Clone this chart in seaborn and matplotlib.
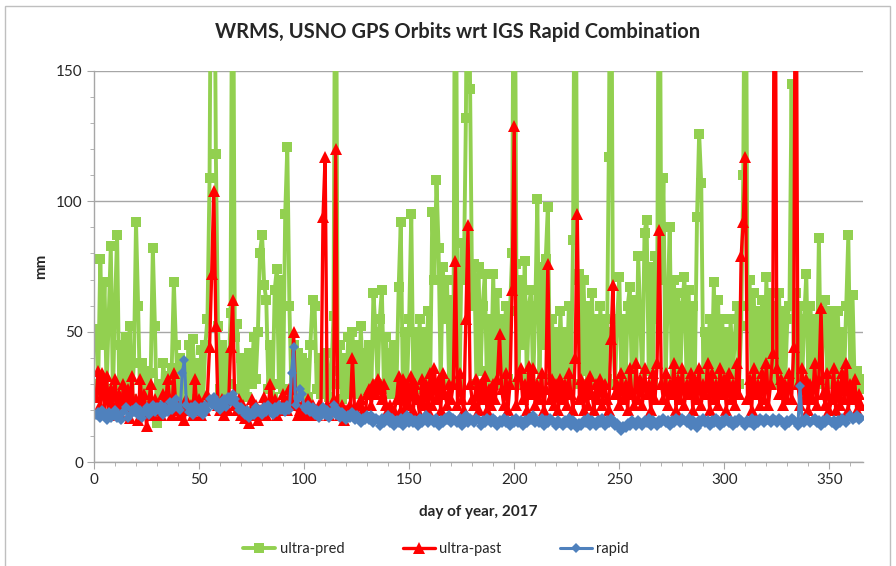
import numpy as np
import pandas as pd
import matplotlib
matplotlib.use("Agg")
import matplotlib.pyplot as plt
import seaborn as sns
from matplotlib.ticker import MultipleLocator
from matplotlib.patches import Rectangle

# daily WRMS values (mm), days 1..365
# values of 250 are spikes that run off the top of the chart
ultra_pred = [
    51, 30, 78, 45, 69, 28, 55, 83, 25, 60,
    87, 28, 45, 22, 48, 30, 52, 24, 38, 92,
    60, 22, 38, 25, 35, 20, 34, 82, 52, 15,
    30, 22, 38, 27, 33, 20, 36, 69, 45, 25,
    40, 22, 36, 28, 45, 24, 47, 30, 38, 22,
    43, 25, 45, 55, 109, 250, 250, 118, 52, 28,
    45, 26, 42, 30, 57, 250, 48, 53, 28, 40,
    26, 40, 25, 42, 30, 48, 32, 50, 80, 87,
    68, 62, 28, 45, 25, 66, 74, 30, 70, 28,
    95, 121, 60, 25, 45, 28, 42, 26, 40, 27,
    38, 25, 45, 62, 60, 28, 40, 26, 38, 28,
    42, 25, 35, 56, 250, 30, 45, 24, 40, 26,
    48, 28, 50, 30, 45, 26, 52, 28, 42, 30,
    45, 27, 65, 50, 30, 55, 66, 28, 48, 30,
    42, 26, 45, 30, 67, 92, 28, 50, 30, 55,
    95, 28, 50, 30, 55, 28, 50, 32, 58, 30,
    96, 70, 108, 82, 30, 75, 55, 70, 30, 62,
    30, 250, 60, 30, 84, 70, 132, 250, 143, 60,
    76, 30, 75, 35, 60, 72, 30, 55, 32, 72,
    30, 65, 35, 55, 30, 60, 32, 58, 80, 250,
    76, 30, 70, 45, 77, 32, 60, 66, 30, 58,
    101, 30, 75, 45, 78, 98, 32, 55, 30, 50,
    32, 58, 30, 50, 32, 60, 30, 85, 250, 70,
    72, 30, 70, 35, 60, 32, 65, 30, 55, 32,
    60, 30, 55, 32, 117, 250, 50, 30, 55, 71,
    32, 55, 30, 60, 67, 32, 62, 30, 79, 55,
    30, 88, 93, 35, 75, 30, 79, 55, 250, 70,
    109, 32, 60, 90, 30, 70, 35, 65, 30, 60,
    71, 32, 66, 30, 60, 35, 94, 126, 107, 32,
    50, 30, 55, 32, 69, 30, 62, 32, 55, 30,
    50, 30, 55, 32, 48, 60, 30, 52, 110, 250,
    60, 70, 32, 65, 30, 58, 35, 62, 30, 71,
    32, 65, 30, 60, 32, 65, 30, 58, 32, 55,
    60, 145, 30, 65, 32, 60, 30, 55, 72, 30,
    60, 30, 55, 32, 86, 30, 50, 62, 30, 58,
    30, 55, 32, 58, 30, 50, 32, 60, 87, 30,
    64, 30, 35, 28, 32,
]

ultra_past = [
    25, 35, 22, 34, 20, 33, 18, 28, 22, 32,
    20, 26, 18, 30, 22, 28, 17, 33, 20, 24,
    16, 32, 20, 26, 14, 22, 30, 18, 24, 20,
    22, 18, 26, 20, 32, 24, 18, 34, 20, 22,
    18, 20, 16, 24, 20, 22, 18, 32, 20, 24,
    18, 22, 20, 26, 44, 72, 104, 52, 22, 20,
    24, 18, 22, 20, 44, 62, 22, 20, 24, 18,
    22, 17, 20, 15, 24, 18, 22, 16, 20, 18,
    25, 18, 22, 30, 20, 24, 18, 22, 20, 26,
    24, 20, 28, 22, 50, 24, 18, 20, 22, 18,
    20, 24, 18, 22, 20, 18, 22, 20, 94, 117,
    22, 18, 20, 24, 120, 20, 18, 22, 16, 20,
    18, 22, 40, 20, 18, 22, 24, 20, 18, 26,
    28, 22, 30, 26, 32, 28, 24, 30, 22, 20,
    22, 18, 20, 24, 33, 20, 32, 18, 30, 22,
    33, 20, 30, 24, 18, 32, 22, 30, 20, 34,
    22, 36, 24, 32, 20, 34, 26, 22, 30, 24,
    30, 77, 22, 34, 24, 20, 55, 91, 30, 24,
    22, 32, 20, 30, 24, 33, 20, 28, 22, 30,
    24, 32, 49, 28, 22, 34, 20, 30, 66, 129,
    22, 33, 36, 24, 30, 20, 37, 26, 36, 22,
    30, 24, 34, 20, 28, 76, 24, 32, 22, 30,
    20, 32, 24, 30, 22, 34, 26, 20, 40, 95,
    24, 32, 20, 30, 22, 33, 26, 20, 30, 24,
    32, 22, 30, 24, 20, 47, 68, 26, 30, 22,
    34, 24, 30, 20, 36, 26, 22, 38, 24, 32,
    22, 36, 26, 30, 20, 34, 24, 38, 89, 30,
    24, 34, 22, 30, 26, 38, 20, 32, 24, 36,
    22, 30, 26, 34, 20, 32, 24, 36, 22, 30,
    26, 38, 20, 34, 24, 30, 22, 36, 26, 32,
    20, 34, 24, 30, 22, 38, 26, 79, 92, 117,
    24, 32, 20, 36, 26, 30, 22, 34, 24, 38,
    22, 30, 42, 250, 36, 26, 32, 22, 30, 24,
    34, 24, 44, 250, 30, 22, 36, 24, 32, 20,
    30, 24, 38, 22, 32, 59, 26, 22, 34, 20,
    24, 36, 20, 30, 22, 34, 24, 38, 20, 30,
    24, 32, 20, 26, 22,
]

rapid = [
    18, 19, 17, 20, 18, 16, 19, 17, 18, 20,
    17, 18, 16, 19, 21, 17, 18, 20, 19, 21,
    18, 20, 17, 19, 21, 18, 20, 22, 19, 21,
    20, 22, 18, 21, 19, 23, 20, 22, 24, 21,
    20, 34, 39, 22, 19, 21, 18, 22, 20, 19,
    21, 18, 22, 20, 24, 22, 25, 21, 23, 20,
    22, 24, 21, 25, 23, 26, 24, 22, 20, 21,
    19, 18, 20, 17, 19, 18, 21, 19, 20, 18,
    21, 19, 22, 20, 18, 21, 19, 22, 20, 21,
    19, 22, 20, 34, 44, 22, 24, 28, 26, 21,
    20, 22, 19, 21, 18, 20, 17, 19, 21, 18,
    20, 17, 19, 22, 18, 20, 17, 19, 18, 16,
    18, 17, 19, 16, 18, 17, 15, 17, 16, 18,
    16, 18, 15, 17, 16, 14, 17, 15, 16, 18,
    15, 17, 14, 16, 15, 17, 14, 16, 18, 15,
    17, 15, 16, 14, 17, 15, 16, 18, 15, 17,
    16, 15, 17, 14, 16, 15, 17, 16, 18, 15,
    17, 16, 15, 17, 14, 16, 18, 15, 17, 16,
    15, 17, 16, 14, 16, 15, 17, 16, 15, 17,
    16, 14, 16, 15, 17, 15, 16, 14, 16, 15,
    17, 15, 16, 14, 16, 15, 17, 16, 18, 15,
    16, 15, 17, 14, 16, 15, 17, 16, 15, 14,
    16, 15, 14, 16, 15, 17, 14, 16, 15, 13,
    15, 14, 16, 15, 17, 14, 16, 15, 14, 16,
    15, 17, 14, 16, 15, 17, 16, 14, 15, 13,
    12, 14, 13, 15, 14, 16, 15, 14, 16, 15,
    14, 16, 15, 17, 14, 16, 15, 14, 16, 15,
    17, 15, 16, 14, 16, 15, 17, 16, 15, 17,
    16, 15, 17, 14, 16, 15, 13, 16, 15, 17,
    15, 16, 14, 16, 15, 17, 16, 14, 16, 15,
    17, 15, 16, 14, 16, 15, 17, 16, 15, 14,
    16, 15, 17, 14, 16, 15, 17, 16, 15, 17,
    16, 15, 17, 16, 15, 17, 16, 15, 14, 16,
    15, 17, 16, 15, 14, 29, 16, 15, 17, 16,
    15, 16, 17, 15, 16, 14, 16, 15, 17, 16,
    15, 16, 14, 16, 15, 17, 16, 15, 17, 18,
    16, 17, 18, 16, 17,
]

days = np.arange(1, len(rapid) + 1)

df = pd.DataFrame({
    "day": days,
    "ultra-pred": ultra_pred,
    "ultra-past": ultra_past,
    "rapid": rapid,
})

sns.set_style("white")
plt.rcParams["font.family"] = ["Lato", "DejaVu Sans"]

fig = plt.figure(figsize=(8.96, 5.66), dpi=100)
ax = fig.add_axes([0.1049, 0.1837, 0.8583, 0.6909])

# thin frame round the whole chart
fig.patches.append(Rectangle((0.006, -0.01), 0.987, 1.0, transform=fig.transFigure,
                             fill=False, edgecolor="#bfbfbf", linewidth=1))

sns.lineplot(data=df, x="day", y="ultra-pred", ax=ax, color="#92D050",
             marker="s", markersize=7, markeredgewidth=0, linewidth=2.8,
             label="ultra-pred")
sns.lineplot(data=df, x="day", y="ultra-past", ax=ax, color="#FF0000",
             marker="^", markersize=8, markeredgewidth=0, linewidth=2.4,
             label="ultra-past")
sns.lineplot(data=df, x="day", y="rapid", ax=ax, color="#4F81BD",
             marker="D", markersize=5.5, markeredgewidth=0, linewidth=2.2,
             label="rapid")

ax.set_xlim(0, 366)
ax.set_ylim(0, 150)
ax.xaxis.set_major_locator(MultipleLocator(50))
ax.xaxis.set_minor_locator(MultipleLocator(10))
ax.yaxis.set_major_locator(MultipleLocator(50))
ax.yaxis.set_minor_locator(MultipleLocator(10))

ax.grid(axis="y", which="major", color="#a6a6a6", linewidth=1)
ax.set_axisbelow(True)
for side in ["top", "right"]:
    ax.spines[side].set_visible(False)
for side in ["left", "bottom"]:
    ax.spines[side].set_color("#a6a6a6")
    ax.spines[side].set_linewidth(1)

ax.tick_params(axis="both", which="major", direction="out", length=5,
               color="#a6a6a6", labelsize=11, pad=3, bottom=True, left=True)
ax.tick_params(axis="both", which="minor", direction="out", length=3,
               color="#a6a6a6", bottom=True, left=True)

ax.set_title("WRMS, USNO GPS Orbits wrt IGS Rapid Combination",
             fontsize=14.5, fontweight="bold", pad=24, x=0.473)
ax.set_xlabel("day of year, 2017", fontsize=11, fontweight="bold", labelpad=13)
ax.set_ylabel("mm", fontsize=11, fontweight="bold", labelpad=6)

ax.legend(loc="upper center", bbox_to_anchor=(0.445, -0.17), ncol=3,
          frameon=False, fontsize=10.5, handlelength=2.2, columnspacing=4.0,
          handletextpad=0.3)

fig.savefig("out.png", dpi=100)
